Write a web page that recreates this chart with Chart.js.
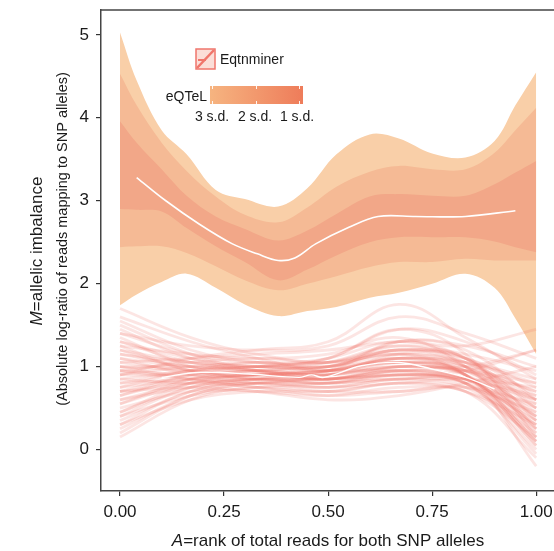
<!DOCTYPE html>
<html><head><meta charset="utf-8">
<script src="https://cdn.jsdelivr.net/npm/chart.js@4"></script>
<style>html,body{margin:0;padding:0;overflow:hidden;background:#fff}canvas{display:block}</style>
</head><body>
<canvas id="c" width="557" height="551"></canvas>
<script>
// ---- eQTeL bands (mean ± k s.d.) ----
const bandX    = [0, 0.04, 0.10, 0.16, 0.23, 0.30, 0.38, 0.45, 0.52, 0.60, 0.67, 0.75, 0.83, 0.90, 0.95, 1.00];
const sd3Upper = [5.03, 4.45, 3.85, 3.56, 3.13, 3.02, 2.93, 3.15, 3.56, 3.80, 3.75, 3.57, 3.52, 3.72, 4.15, 4.55];
const sd3Lower = [1.74, 1.87, 2.02, 2.12, 1.95, 1.75, 1.61, 1.67, 1.72, 1.83, 1.89, 2.00, 2.12, 1.95, 1.58, 1.15];
const sd2Upper = [4.53, 4.15, 3.70, 3.36, 3.05, 2.83, 2.74, 2.92, 3.17, 3.35, 3.42, 3.38, 3.38, 3.58, 3.85, 4.12];
const sd2Lower = [2.44, 2.45, 2.45, 2.37, 2.21, 2.04, 1.92, 2.00, 2.09, 2.20, 2.26, 2.26, 2.30, 2.28, 2.28, 2.28];
const sd1Upper = [3.96, 3.70, 3.38, 3.06, 2.81, 2.66, 2.52, 2.64, 2.84, 3.05, 3.08, 3.06, 3.06, 3.20, 3.34, 3.48];
const sd1Lower = [2.90, 2.89, 2.87, 2.67, 2.45, 2.26, 2.04, 2.17, 2.34, 2.50, 2.56, 2.56, 2.56, 2.51, 2.44, 2.38];
const eqtelMeanX = [0.04, 0.11, 0.19, 0.27, 0.33, 0.38, 0.42, 0.47, 0.55, 0.62, 0.71, 0.83, 0.95];
const eqtelMeanY = [3.28, 3.00, 2.72, 2.48, 2.36, 2.28, 2.31, 2.48, 2.68, 2.81, 2.81, 2.81, 2.88];

// ---- Eqtnminer individual curves ----
const minerX = [0, 0.17, 0.33, 0.50, 0.67, 0.83, 1.00];
const minerLines = [
  [1.70, 1.35, 1.15, 1.05, 1.20, 1.10, 0.75],
  [1.55, 1.20, 1.05, 1.00, 1.30, 1.20, 0.60],
  [1.45, 1.10, 1.00, 1.10, 1.45, 1.30, 0.90],
  [1.40, 1.25, 1.20, 1.25, 1.60, 1.40, 1.10],
  [1.30, 1.05, 0.95, 0.90, 1.10, 0.95, 0.40],
  [1.25, 1.15, 1.10, 1.15, 1.35, 1.00, 0.20],
  [1.20, 0.95, 0.85, 0.80, 0.95, 0.85, 0.30],
  [1.15, 1.00, 0.95, 1.05, 1.25, 1.05, 0.55],
  [1.10, 0.90, 0.80, 0.75, 0.85, 0.80, 0.00],
  [1.05, 1.10, 1.15, 1.20, 1.30, 1.25, 1.45],
  [1.00, 0.95, 0.90, 0.85, 1.00, 0.95, 0.80],
  [0.95, 0.85, 0.80, 0.90, 1.15, 1.10, 0.35],
  [0.90, 0.90, 0.95, 1.00, 1.05, 0.90, 0.10],
  [0.85, 0.80, 0.85, 0.80, 0.90, 0.85, 0.50],
  [0.80, 0.95, 1.05, 1.00, 1.20, 1.00, 0.25],
  [0.75, 0.85, 0.90, 0.95, 1.10, 0.90, 0.05],
  [0.70, 0.80, 0.75, 0.70, 0.80, 0.75, 0.45],
  [0.65, 0.90, 1.00, 0.95, 0.95, 0.85, 0.65],
  [0.60, 0.75, 0.80, 0.75, 0.85, 0.80, -0.05],
  [0.55, 0.85, 0.95, 0.90, 1.00, 0.95, 0.70],
  [0.50, 0.70, 0.70, 0.65, 0.75, 0.70, 0.15],
  [0.45, 0.80, 0.90, 0.85, 0.95, 0.85, 0.40],
  [0.40, 0.65, 0.75, 0.80, 0.90, 0.80, 0.25],
  [0.35, 0.70, 0.85, 0.95, 1.05, 0.90, -0.20],
  [0.30, 0.60, 0.70, 0.70, 0.80, 0.70, 0.30],
  [0.20, 0.65, 0.80, 0.85, 0.90, 0.80, 0.10],
  [0.15, 0.60, 0.75, 0.70, 0.70, 0.75, 0.55],
  [1.35, 1.00, 0.85, 0.95, 1.30, 1.25, 1.00],
  [1.50, 1.15, 0.95, 0.85, 1.00, 1.00, 1.20],
  [0.90, 1.10, 1.20, 1.30, 1.75, 1.35, 0.85],
  [1.10, 1.00, 1.00, 1.10, 1.45, 1.15, 0.15],
  [0.70, 0.75, 0.70, 0.60, 0.65, 0.80, 1.00],
  [1.00, 0.85, 0.75, 0.65, 0.70, 0.70, -0.10],
  [0.60, 0.80, 0.85, 0.85, 0.90, 0.95, 1.20],
  [1.25, 0.95, 0.90, 1.00, 1.15, 0.90, 0.05],
  [0.85, 0.95, 1.00, 1.10, 1.30, 1.10, 0.50],
  [0.45, 0.75, 0.85, 0.80, 0.85, 0.75, 0.20],
  [0.95, 1.05, 1.10, 1.05, 1.15, 1.05, 0.60],
  [0.30, 0.70, 0.80, 0.75, 0.80, 0.85, 0.75],
  [1.60, 1.30, 1.10, 0.95, 1.05, 0.95, 0.45],
  [0.80, 0.85, 0.90, 0.95, 1.05, 0.95, 0.60],
  [1.00, 1.00, 0.95, 0.90, 1.05, 1.00, 0.70],
  [0.70, 0.90, 0.95, 0.90, 1.00, 0.90, 0.35],
  [1.15, 1.05, 1.00, 0.95, 1.10, 1.05, 0.85],
  [0.55, 0.80, 0.90, 0.95, 1.10, 1.00, 0.50],
  [0.95, 0.90, 0.85, 0.85, 0.95, 0.85, 0.30],
  [1.30, 1.10, 1.00, 1.00, 1.20, 1.10, 0.65],
  [0.40, 0.75, 0.85, 0.90, 1.00, 0.90, 0.15],
  [0.75, 0.95, 1.00, 1.00, 1.15, 1.05, 0.80],
  [1.05, 0.95, 0.90, 0.95, 1.10, 1.00, 0.40],
  [0.25, 0.65, 0.80, 0.80, 0.85, 0.80, 0.35],
  [1.40, 1.15, 1.05, 1.05, 1.25, 1.15, 0.95],
  [0.65, 0.85, 0.90, 0.85, 0.90, 0.85, 0.60],
  [0.90, 1.00, 1.05, 1.05, 1.20, 1.10, 0.25],
  [1.20, 1.05, 0.95, 0.85, 0.95, 0.90, 0.10]
];
const minerMeanX = [0.10, 0.19, 0.31, 0.43, 0.46, 0.49, 0.58, 0.67, 0.75, 0.83, 0.90];
const minerMeanY = [0.87, 0.93, 0.91, 0.87, 0.90, 0.87, 1.01, 1.05, 0.97, 0.87, 0.73];

// ---- axes ----
const xTicks = [0, 0.25, 0.5, 0.75, 1];
const xTickLabels = ['0.00', '0.25', '0.50', '0.75', '1.00'];
const yTicks = [0, 1, 2, 3, 4, 5];
const yTickLabels = ['0', '1', '2', '3', '4', '5'];
const legendSdLabels = ['3 s.d.', '2 s.d.', '1 s.d.'];

const FONT = '"Liberation Sans", Arial, Helvetica, sans-serif';
const pts = (xs, ys) => xs.map((x, i) => ({x, y: ys[i]}));
const line = (xs, ys, extra) => Object.assign({
  data: pts(xs, ys), pointRadius: 0, borderWidth: 0, tension: 0.35, fill: false
}, extra);

const datasets = [];
datasets.push(line(minerMeanX, minerMeanY, {borderColor: '#ffffff', borderWidth: 1.4}));
datasets.push(line(eqtelMeanX, eqtelMeanY, {borderColor: '#ffffff', borderWidth: 1.6}));
minerLines.forEach(v => datasets.push(line(minerX, v, {borderColor: 'rgba(238,112,100,0.18)', borderWidth: 2.8, tension: 0.4})));
datasets.push(line(bandX, sd1Upper, {fill: '+1', backgroundColor: 'rgb(242,167,136)', borderColor: 'rgba(0,0,0,0)'}));
datasets.push(line(bandX, sd1Lower, {borderColor: 'rgba(0,0,0,0)'}));
datasets.push(line(bandX, sd2Upper, {fill: '+1', backgroundColor: 'rgb(245,186,149)', borderColor: 'rgba(0,0,0,0)'}));
datasets.push(line(bandX, sd2Lower, {borderColor: 'rgba(0,0,0,0)'}));
datasets.push(line(bandX, sd3Upper, {fill: '+1', backgroundColor: 'rgb(249,207,168)', borderColor: 'rgba(0,0,0,0)'}));
datasets.push(line(bandX, sd3Lower, {borderColor: 'rgba(0,0,0,0)'}));

const decor = {
  id: 'decor',
  afterDraw(chart) {
    const ctx = chart.ctx, ca = chart.chartArea;
    ctx.save();
    // top frame line
    ctx.strokeStyle = '#444'; ctx.lineWidth = 1.5;
    ctx.beginPath(); ctx.moveTo(ca.left, ca.top); ctx.lineTo(chart.width, ca.top); ctx.stroke();

    // x title
    ctx.fillStyle = '#1a1a1a'; ctx.textBaseline = 'middle';
    const xt1 = 'A', xt2 = '=rank of total reads for both SNP alleles';
    ctx.font = 'italic 17px ' + FONT; const w1 = ctx.measureText(xt1).width;
    ctx.font = '17px ' + FONT; const w2 = ctx.measureText(xt2).width;
    let sx = 328 - (w1 + w2) / 2;
    ctx.textAlign = 'left';
    ctx.font = 'italic 17px ' + FONT; ctx.fillText(xt1, sx, 541);
    ctx.font = '17px ' + FONT; ctx.fillText(xt2, sx + w1, 541);

    // y titles
    ctx.save();
    ctx.translate(37, 251); ctx.rotate(-Math.PI / 2);
    const yt1 = 'M', yt2 = '=allelic imbalance';
    ctx.font = 'italic 17px ' + FONT; const v1 = ctx.measureText(yt1).width;
    ctx.font = '17px ' + FONT; const v2 = ctx.measureText(yt2).width;
    let sy = -(v1 + v2) / 2;
    ctx.font = 'italic 17px ' + FONT; ctx.fillText(yt1, sy, 0);
    ctx.font = '17px ' + FONT; ctx.fillText(yt2, sy + v1, 0);
    ctx.restore();
    ctx.save();
    ctx.translate(63, 239); ctx.rotate(-Math.PI / 2);
    ctx.font = '14.5px ' + FONT; ctx.textAlign = 'center';
    ctx.fillText('(Absolute log-ratio of reads mapping to SNP alleles)', 0, 0);
    ctx.restore();

    // legend: Eqtnminer key
    ctx.fillStyle = 'rgb(251,222,216)';
    ctx.fillRect(196, 49, 19, 20);
    ctx.strokeStyle = 'rgb(240,118,108)'; ctx.lineWidth = 1.5;
    ctx.strokeRect(196, 49, 19, 20);
    ctx.lineWidth = 2.5;
    ctx.beginPath(); ctx.moveTo(197, 68); ctx.lineTo(214, 50); ctx.stroke();
    ctx.lineWidth = 2;
    ctx.beginPath(); ctx.moveTo(198, 60); ctx.lineTo(206, 60); ctx.stroke();
    ctx.fillStyle = '#1a1a1a'; ctx.font = '14px ' + FONT; ctx.textAlign = 'left';
    ctx.fillText('Eqtnminer', 220, 60);

    // legend: eQTeL gradient bar
    ctx.textAlign = 'right';
    ctx.fillText('eQTeL', 207, 97);
    const g = ctx.createLinearGradient(210, 0, 303, 0);
    g.addColorStop(0, 'rgb(246,180,128)');
    g.addColorStop(1, 'rgb(238,124,90)');
    ctx.fillStyle = g; ctx.fillRect(210, 86, 93, 18);
    ctx.strokeStyle = 'rgba(255,255,255,0.9)'; ctx.lineWidth = 1;
    [212, 256, 299].forEach(x => {
      ctx.beginPath(); ctx.moveTo(x + 0.5, 86); ctx.lineTo(x + 0.5, 89); ctx.stroke();
      ctx.beginPath(); ctx.moveTo(x + 0.5, 101); ctx.lineTo(x + 0.5, 104); ctx.stroke();
    });
    ctx.fillStyle = '#1a1a1a'; ctx.textAlign = 'center'; ctx.font = '14px ' + FONT;
    [212, 255, 297].forEach((x, i) => ctx.fillText(legendSdLabels[i], x, 117));
    ctx.restore();
  }
};

new Chart(document.getElementById('c'), {
  type: 'line',
  data: {datasets},
  plugins: [decor],
  options: {
    responsive: false, animation: false, devicePixelRatio: 1,
    layout: {padding: {top: 10, left: 0, right: 0, bottom: 0}},
    plugins: {legend: {display: false}, tooltip: {enabled: false}, filler: {propagate: false}},
    scales: {
      x: {
        type: 'linear', min: -0.0457, max: 1.05,
        afterBuildTicks: s => { s.ticks = xTicks.map(v => ({value: v})); },
        afterFit: s => { s.height = 60; s.paddingLeft = 0; s.paddingRight = 0; },
        grid: {drawOnChartArea: false, drawTicks: true, tickLength: 5, color: '#333', lineWidth: 1.2},
        border: {color: '#444', width: 1.5},
        ticks: {font: {family: FONT, size: 17}, color: '#1a1a1a', padding: 6, maxRotation: 0,
          callback: (v) => { const i = xTicks.indexOf(v); return i >= 0 ? xTickLabels[i] : ''; }}
      },
      y: {
        min: -0.5, max: 5.3,
        afterBuildTicks: s => { s.ticks = yTicks.map(v => ({value: v})); },
        afterFit: s => { s.width = 101; s.paddingTop = 0; s.paddingBottom = 0; },
        grid: {drawOnChartArea: false, drawTicks: true, tickLength: 5, color: '#333', lineWidth: 1.2},
        border: {color: '#444', width: 1.5},
        ticks: {font: {family: FONT, size: 17}, color: '#1a1a1a', padding: 7,
          callback: (v) => { const i = yTicks.indexOf(v); return i >= 0 ? yTickLabels[i] : ''; }}
      }
    }
  }
});
</script>
</body></html>
